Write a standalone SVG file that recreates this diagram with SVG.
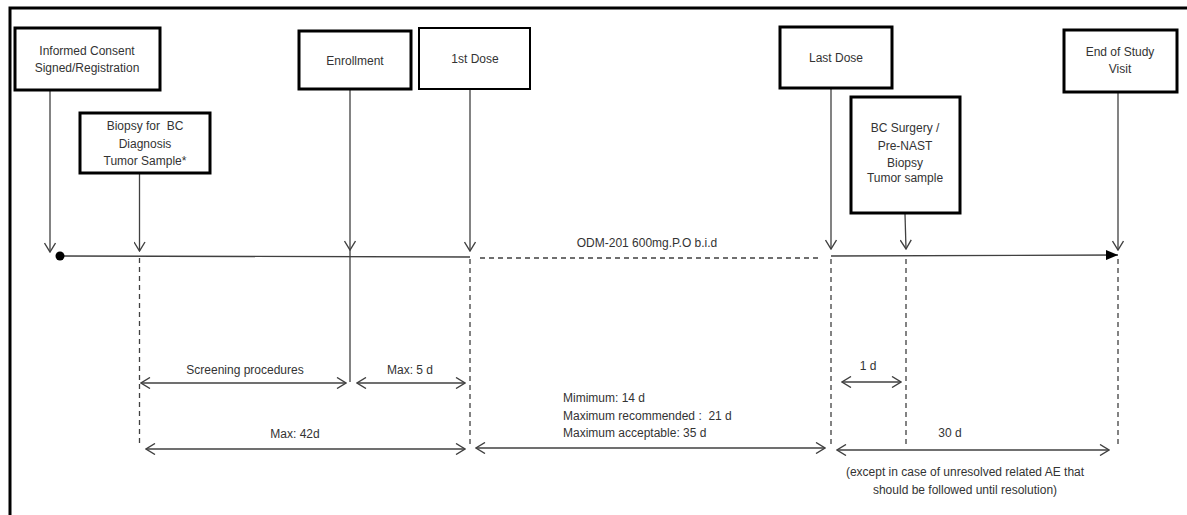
<svg xmlns="http://www.w3.org/2000/svg" width="1187" height="515" viewBox="0 0 1187 515">
<style>
text{font-family:"Liberation Sans",Arial,sans-serif;font-size:12px;fill:#333;white-space:pre;}
.c{text-anchor:middle;}
.box{fill:#fff;stroke:#000;stroke-width:3;}
.thin{stroke-width:2;}
.ln{stroke:#404040;stroke-width:1.3;fill:none;}
.dash{stroke:#404040;stroke-width:1.3;fill:none;stroke-dasharray:5,4;}
</style>
<defs>
<marker id="open" viewBox="0 0 11 12" refX="10" refY="6" markerWidth="11" markerHeight="12" markerUnits="userSpaceOnUse" orient="auto-start-reverse">
<path d="M1,0.5 L10,6 L1,11.5" fill="none" stroke="#404040" stroke-width="1.4"/>
</marker>
<marker id="solid" viewBox="0 0 12 10" refX="12" refY="5" markerWidth="12" markerHeight="10" markerUnits="userSpaceOnUse" orient="auto">
<path d="M0,0 L12,5 L0,10 Z" fill="#000"/>
</marker>
</defs>
<rect x="0" y="0" width="1187" height="515" fill="#fff"/>
<path d="M10,515 L10,8 L1195,8" fill="none" stroke="#000" stroke-width="3"/>

<g id="connectors">
<line class="ln" x1="60" y1="256" x2="470" y2="257"/>
<circle cx="60" cy="256" r="4.5" fill="#000"/>
<line class="dash" x1="480" y1="258" x2="822" y2="258"/>
<line class="ln" x1="831" y1="256" x2="1118" y2="255" marker-end="url(#solid)" stroke="#000"/>
<line class="ln" x1="50" y1="91" x2="50" y2="252" marker-end="url(#open)"/>
<line class="ln" x1="139.5" y1="174" x2="139.5" y2="251" marker-end="url(#open)"/>
<line class="ln" x1="350" y1="90" x2="350" y2="250" marker-end="url(#open)"/>
<line class="ln" x1="470" y1="90" x2="470" y2="251" marker-end="url(#open)"/>
<line class="ln" x1="831" y1="89" x2="831" y2="249" marker-end="url(#open)"/>
<line class="ln" x1="905" y1="214" x2="906" y2="249" marker-end="url(#open)"/>
<line class="ln" x1="1118" y1="93" x2="1118" y2="250" marker-end="url(#open)"/>
<line class="ln" x1="350" y1="250" x2="350" y2="382"/>
<line class="dash" x1="139.5" y1="258" x2="139.5" y2="446"/>
<line class="dash" x1="470" y1="259" x2="470" y2="446"/>
<line class="dash" x1="831" y1="259" x2="831" y2="446"/>
<line class="dash" x1="906" y1="259" x2="906" y2="446"/>
<line class="dash" x1="1118" y1="259" x2="1118" y2="446"/>
<line class="ln" x1="141" y1="383" x2="346" y2="383" marker-start="url(#open)" marker-end="url(#open)"/>
<line class="ln" x1="357" y1="383" x2="465" y2="383" marker-start="url(#open)" marker-end="url(#open)"/>
<line class="ln" x1="146" y1="449" x2="465" y2="449" marker-start="url(#open)" marker-end="url(#open)"/>
<line class="ln" x1="476" y1="448" x2="825" y2="448" marker-start="url(#open)" marker-end="url(#open)"/>
<line class="ln" x1="842" y1="382" x2="901" y2="382" marker-start="url(#open)" marker-end="url(#open)"/>
<line class="ln" x1="837" y1="450" x2="1109" y2="450" marker-start="url(#open)" marker-end="url(#open)"/>
</g>

<g id="n-consent">
<rect class="box" x="15" y="28" width="145" height="62"/>
<text class="c" x="87" y="55">Informed Consent</text>
<text class="c" x="87" y="72">Signed/Registration</text>
</g>
<g id="n-biopsy">
<rect class="box" x="80" y="113" width="130" height="60"/>
<text class="c" x="145" y="130" xml:space="preserve">Biopsy for  BC</text>
<text class="c" x="145" y="148">Diagnosis</text>
<text class="c" x="145" y="165">Tumor Sample*</text>
</g>
<g id="n-enrollment">
<rect class="box" x="299" y="31" width="112" height="58"/>
<text class="c" x="355" y="65">Enrollment</text>
</g>
<g id="n-firstdose">
<rect class="box thin" x="419" y="28" width="111" height="61"/>
<text class="c" x="475" y="63">1st Dose</text>
</g>
<g id="n-lastdose">
<rect class="box" x="780" y="27" width="112" height="61"/>
<text class="c" x="836" y="62">Last Dose</text>
</g>
<g id="n-surgery">
<rect class="box" x="851" y="97" width="109" height="116"/>
<text class="c" x="905" y="132">BC Surgery /</text>
<text class="c" x="905" y="150">Pre-NAST</text>
<text class="c" x="905" y="167">Biopsy</text>
<text class="c" x="905" y="182">Tumor sample</text>
</g>
<g id="n-endofstudy">
<rect class="box" x="1064" y="30" width="113" height="62"/>
<text class="c" x="1120" y="56">End of Study</text>
<text class="c" x="1120" y="73">Visit</text>
</g>

<g id="labels">
<text class="c" x="647" y="247">ODM-201 600mg.P.O b.i.d</text>
<text class="c" x="245" y="374">Screening procedures</text>
<text class="c" x="410" y="374">Max: 5 d</text>
<text class="c" x="295" y="438">Max: 42d</text>
<text x="563" y="402">Mimimum: 14 d</text>
<text x="563" y="420" xml:space="preserve">Maximum recommended :  21 d</text>
<text x="563" y="437">Maximum acceptable: 35 d</text>
<text class="c" x="868" y="370">1 d</text>
<text class="c" x="950" y="437">30 d</text>
<text class="c" x="965" y="476">(except in case of unresolved related AE that</text>
<text class="c" x="965" y="494">should be followed until resolution)</text>
</g>
</svg>
